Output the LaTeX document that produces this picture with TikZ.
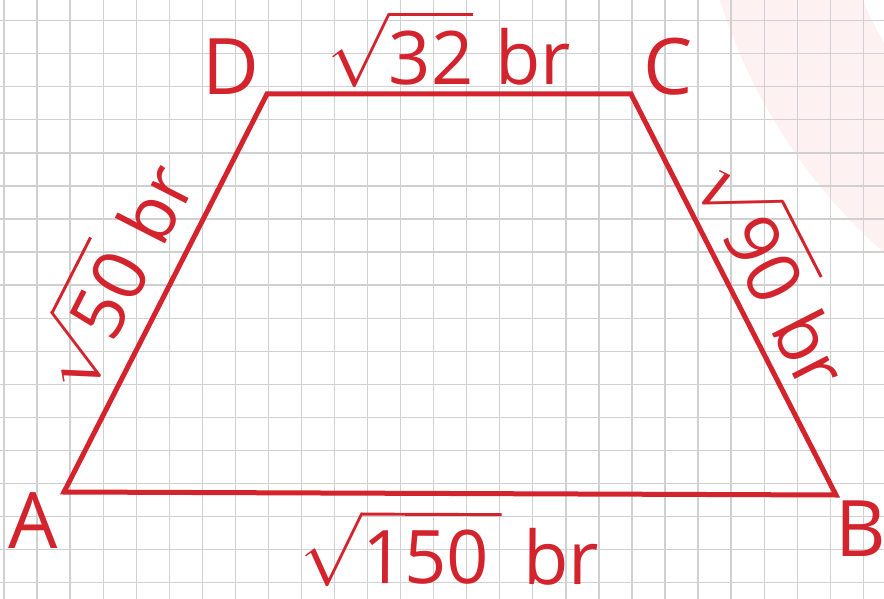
\documentclass[tikz,border=0pt]{standalone}
\usepackage{amsmath}
\usepackage{fontspec}
\usepackage{unicode-math}
\setmainfont{Open Sans}
\setmathfont{Latin Modern Math}

\definecolor{inkred}{RGB}{211,35,45}
\definecolor{gridgray}{RGB}{208,208,208}
\definecolor{blush}{RGB}{253,241,241}

\newcommand{\rootlen}[1]{$\sqrt{\rule{0pt}{62pt}\mbox{#1}}$\hspace{22pt}br}

\tikzset{
  edge/.style={draw=inkred, line width=5pt, line join=miter},
  gridline/.style={gridgray, line width=1.3pt},
  vertex/.style={text=inkred, inner sep=0pt, font=\fontsize{78}{84}\selectfont},
  sidelabel/.style={text=inkred, inner sep=0pt, sloped, font=\fontsize{74}{80}\selectfont}
}

\begin{document}
\begin{tikzpicture}[x=1pt, y=-1pt]
\useasboundingbox (0,0) rectangle (884,599);
\fill[white] (0,0) rectangle (884,599);
% pink ring in the corner
\begin{scope}
  \clip (0,0) rectangle (884,599);
  \fill[blush, even odd rule] (1257,-169) circle[radius=563] (1257,-169) circle[radius=429];
\end{scope}
\draw[gridline, step=33.05pt, shift={(4,20.7)}] (-4,-20.7) grid (880,578.3);

\coordinate (A) at (64,492);
\coordinate (B) at (836,495);
\coordinate (C) at (631,94);
\coordinate (D) at (267,94);

\draw[edge] (A) -- node[sidelabel, below=14pt] (lblAB) {\rootlen{150\,}}
  (B) -- node[sidelabel, above=11pt] (lblBC) {\rootlen{90}}
  (C) -- node[sidelabel, above=4pt] (lblCD) {\rootlen{32}}
  (D) -- node[sidelabel, above=17pt, pos=0.52] (lblDA) {\rootlen{50}} cycle;

\node[vertex] (lblA) at (33,521) {A};
\node[vertex] (lblB) at (861,529) {B};
\node[vertex] (lblC) at (668,67) {C};
\node[vertex] (lblD) at (231,67) {D};
\end{tikzpicture}
\end{document}
